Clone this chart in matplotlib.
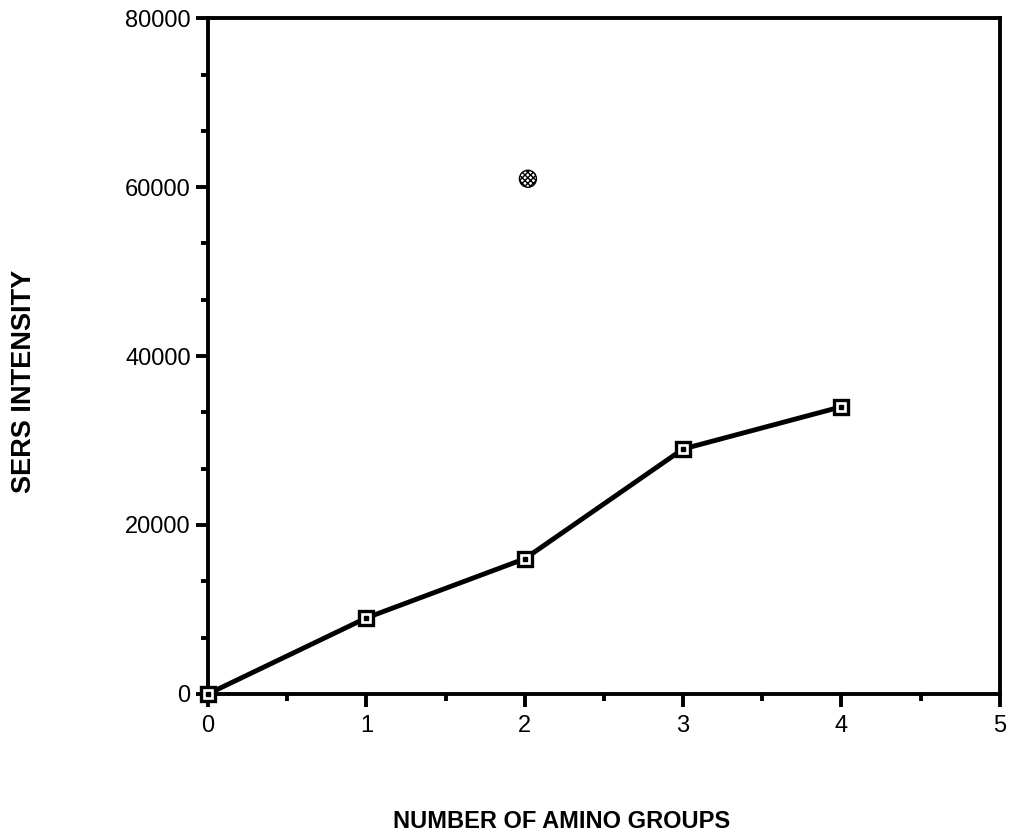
import matplotlib
matplotlib.use("Agg")
import matplotlib.pyplot as plt
from matplotlib.ticker import MultipleLocator

plt.rcParams["font.family"] = ["Liberation Sans", "DejaVu Sans"]

# Data
amino_groups = [0, 1, 2, 3, 4]
sers_intensity = [0, 9000, 16000, 29000, 34000]

outlier_x = [2.02]
outlier_y = [61000]

fig = plt.figure(figsize=(10.15, 8.32), dpi=100)
ax = fig.add_axes([0.205, 0.166, 0.780, 0.812])

# main series: line + open square markers with a center dot
ax.plot(amino_groups, sers_intensity, color="black", linewidth=3.5,
        marker="s", markersize=9.5, markerfacecolor="white",
        markeredgecolor="black", markeredgewidth=2.4, zorder=3,
        clip_on=False)
ax.plot(amino_groups, sers_intensity, linestyle="none", marker="s",
        markersize=2.5, color="black", zorder=4, clip_on=False)

# separate point (hatched marker)
ax.scatter(outlier_x, outlier_y, s=150, marker="o", facecolor="white",
           edgecolor="black", hatch="xxxxxx", linewidth=1.0, zorder=3)

ax.set_xlim(0, 5)
ax.set_ylim(0, 80000)
ax.xaxis.set_major_locator(MultipleLocator(1))
ax.xaxis.set_minor_locator(MultipleLocator(0.5))
ax.yaxis.set_major_locator(MultipleLocator(20000))
ax.yaxis.set_minor_locator(MultipleLocator(20000 / 3))

for s in ax.spines.values():
    s.set_linewidth(2.8)

ax.tick_params(axis="both", which="major", direction="out", length=9,
               width=2.8, labelsize=17)
ax.tick_params(axis="both", which="minor", direction="out", length=5,
               width=2.8)
ax.tick_params(axis="x", pad=6)

ax.set_xlabel("NUMBER OF AMINO GROUPS", fontsize=17, fontweight="bold")
ax.set_ylabel("SERS INTENSITY", fontsize=19.5, fontweight="bold")
ax.xaxis.set_label_coords(0.446, -0.172)
ax.yaxis.set_label_coords(-0.216, 0.463)

fig.savefig("out.png", dpi=100)
